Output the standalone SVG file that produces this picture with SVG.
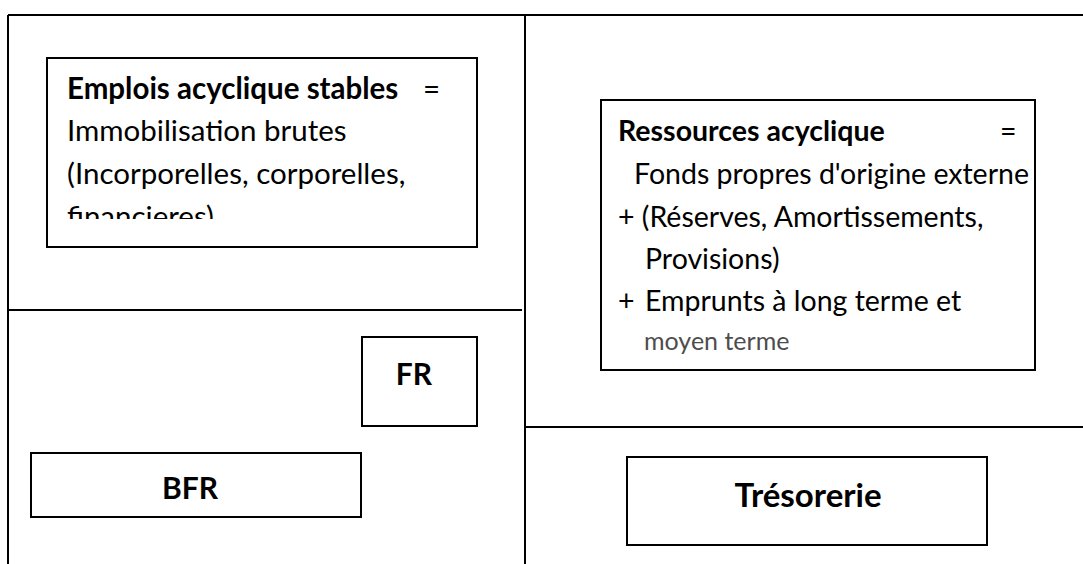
<svg xmlns="http://www.w3.org/2000/svg" width="1083" height="564" viewBox="0 0 1083 564">
<style>
.ln{stroke:#000;stroke-width:2;fill:none}
.bx{fill:#fff;stroke:#000;stroke-width:2}
.t{font-family:Lato,"Liberation Sans",sans-serif;font-size:29.5px;fill:#000}
.r{font-size:28.5px}
.b{font-weight:bold}
.big{font-family:Lato,"Liberation Sans",sans-serif;font-weight:bold;font-size:30px;fill:#000;text-anchor:middle}
</style>
<defs>
<clipPath id="clipE"><rect x="48" y="59" width="428" height="160"/></clipPath>
</defs>
<rect width="1083" height="564" fill="#fff"/>
<g id="connectors">
<line class="ln" x1="8" y1="15" x2="1083" y2="15"/>
<line class="ln" x1="8" y1="15" x2="8" y2="564"/>
<line class="ln" x1="525" y1="15" x2="525" y2="564"/>
<line class="ln" x1="8" y1="310" x2="522" y2="310"/>
<line class="ln" x1="525" y1="427" x2="1083" y2="427"/>
</g>
<g id="emplois">
<rect class="bx" x="47" y="58" width="430" height="189"/>
<g clip-path="url(#clipE)">
<text class="t b" x="67" y="99">Emplois acyclique stables</text>
<text class="t" x="423" y="99">=</text>
<text class="t" x="67" y="141">Immobilisation brutes</text>
<text class="t" x="67" y="184">(Incorporelles, corporelles,</text>
<text class="t" x="67" y="227">financieres)</text>
</g>
</g>
<g id="ressources">
<rect class="bx" x="601" y="100" width="434" height="270"/>
<text class="t r b" x="618" y="141">Ressources acyclique</text>
<text class="t r" x="1000" y="141">=</text>
<text class="t r" x="634" y="184">Fonds propres d'origine externe</text>
<text class="t r" x="618" y="227">+ (Réserves, Amortissements,</text>
<text class="t r" x="645" y="269">Provisions)</text>
<text class="t r" x="618" y="311">+</text>
<text class="t r" x="645" y="311">Emprunts à long terme et</text>
<text class="t" x="644" y="350" style="font-size:25px;fill:#3a3a3a;opacity:0.9">moyen terme</text>
</g>
<g id="fr">
<rect class="bx" x="362" y="337" width="115" height="89"/>
<text class="big" x="414" y="385">FR</text>
</g>
<g id="bfr">
<rect class="bx" x="31" y="453" width="330" height="64"/>
<text class="big" x="190" y="499">BFR</text>
</g>
<g id="tresorerie">
<rect class="bx" x="627" y="457" width="360" height="88"/>
<text class="big" x="808" y="507" style="font-size:33px">Trésorerie</text>
</g>
</svg>
